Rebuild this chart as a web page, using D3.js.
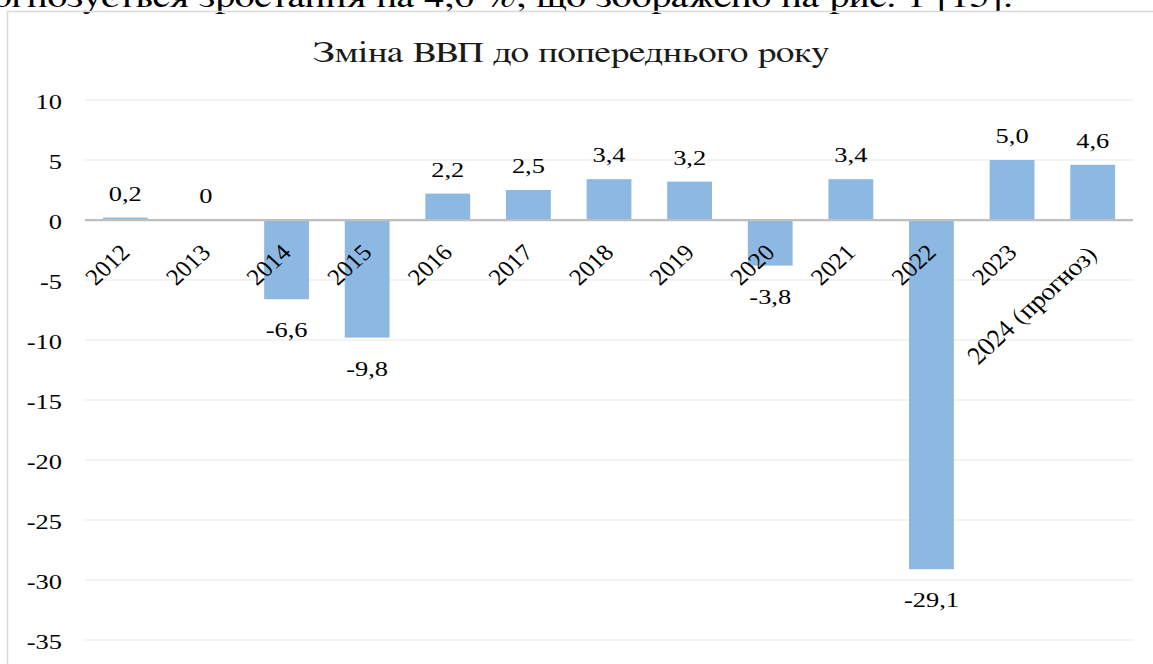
<!DOCTYPE html>
<html>
<head>
<meta charset="utf-8">
<script src="https://cdn.jsdelivr.net/npm/d3@7"></script>
<style>
  html, body { margin: 0; padding: 0; background: #fff; }
  svg { display: block; }
</style>
</head>
<body>
<script>
const categories = ["2012","2013","2014","2015","2016","2017","2018","2019","2020","2021","2022","2023","2024 (прогноз)"];
const values = [0.2, 0, -6.6, -9.8, 2.2, 2.5, 3.4, 3.2, -3.8, 3.4, -29.1, 5.0, 4.6];
const valueLabels = ["0,2","0","-6,6","-9,8","2,2","2,5","3,4","3,2","-3,8","3,4","-29,1","5,0","4,6"];
const yTicks = [10, 5, 0, -5, -10, -15, -20, -25, -30, -35];
const title = "Зміна ВВП до попереднього року";
const headerText = "Прогнозується зростання на 4,6 %, що зображено на рис. 1 [15].";

const NUM_FONT = "'Liberation Serif', serif";
const CYR_FONT = "FreeSerif, 'DejaVu Serif', serif";
const SX = 1.2;
const W = 1153, H = 664;
const svg = d3.select("body").append("svg").attr("width", W).attr("height", H);

// header text (cut at the top, as in the reference)
svg.append("text").attr("transform", "translate(1013,7) scale(1.25,1)").attr("text-anchor", "end")
  .attr("font-family", CYR_FONT).attr("font-size", 32).text(headerText);

// chart frame
svg.append("path").attr("d", `M7.5,${H+5} L7.5,11.5 L${W+5},11.5`)
  .attr("fill", "none").attr("stroke", "#d9d9d9").attr("stroke-width", 1.5);

const x = d3.scaleBand().domain(categories).range([85, 1133]).paddingInner(0.444).paddingOuter(0.222);
const y = d3.scaleLinear().domain([-35, 10]).range([640, 100]);

// title
svg.append("text").attr("transform", "translate(571,62) scale(1.28,1)").attr("text-anchor", "middle")
  .attr("font-family", CYR_FONT).attr("font-size", 29).attr("fill", "#1a1a1a").text(title);

// gridlines
svg.append("g").selectAll("line").data(yTicks.filter(d => d !== 0)).join("line")
  .attr("x1", 85).attr("x2", 1133)
  .attr("y1", d => y(d)).attr("y2", d => y(d))
  .attr("stroke", "#efefef").attr("stroke-width", 1.5);

// y axis labels
const yAxis = d3.axisLeft(y).tickValues(yTicks).tickSize(0).tickPadding(0).tickFormat(d => String(d));
const yg = svg.append("g").attr("transform", "translate(62,0)").call(yAxis);
yg.attr("font-family", NUM_FONT).attr("font-size", 22);
yg.select(".domain").remove();
yg.selectAll("text").attr("x", 0).attr("dy", null).attr("y", 8)
  .attr("transform", `scale(${SX},1)`).attr("fill", "#000");

// bars
svg.append("g").selectAll("rect").data(values).join("rect")
  .attr("x", (d, i) => x(categories[i]))
  .attr("width", x.bandwidth())
  .attr("y", d => y(Math.max(0, d)))
  .attr("height", d => Math.abs(y(d) - y(0)))
  .attr("fill", "#8db8e1");

// zero line
svg.append("line").attr("x1", 85).attr("x2", 1133).attr("y1", y(0)).attr("y2", y(0))
  .attr("stroke", "#bfbfbf").attr("stroke-width", 2.25);

// x labels rotated
const isCyr = d => /[а-яіїєґ]/i.test(d);
svg.append("g")
  .selectAll("text").data(categories).join("text")
  .attr("font-family", d => isCyr(d) ? CYR_FONT : NUM_FONT)
  .attr("font-size", d => isCyr(d) ? 25 : 23)
  .attr("transform", d => `translate(${x(d) + x.bandwidth() / 2 + 6},${isCyr(d) ? 256 : 254}) scale(1.1,1) rotate(-45)`)
  .attr("text-anchor", "end")
  .text(d => d);

// value labels
svg.append("g").attr("font-family", NUM_FONT).attr("font-size", 22)
  .selectAll("text").data(values).join("text")
  .attr("transform", (d, i) => `translate(${x(categories[i]) + x.bandwidth() / 2},${d >= 0 ? y(d) - 17 : y(d) + 38}) scale(${SX},1)`)
  .attr("text-anchor", "middle")
  .text((d, i) => valueLabels[i]);
</script>
</body>
</html>
